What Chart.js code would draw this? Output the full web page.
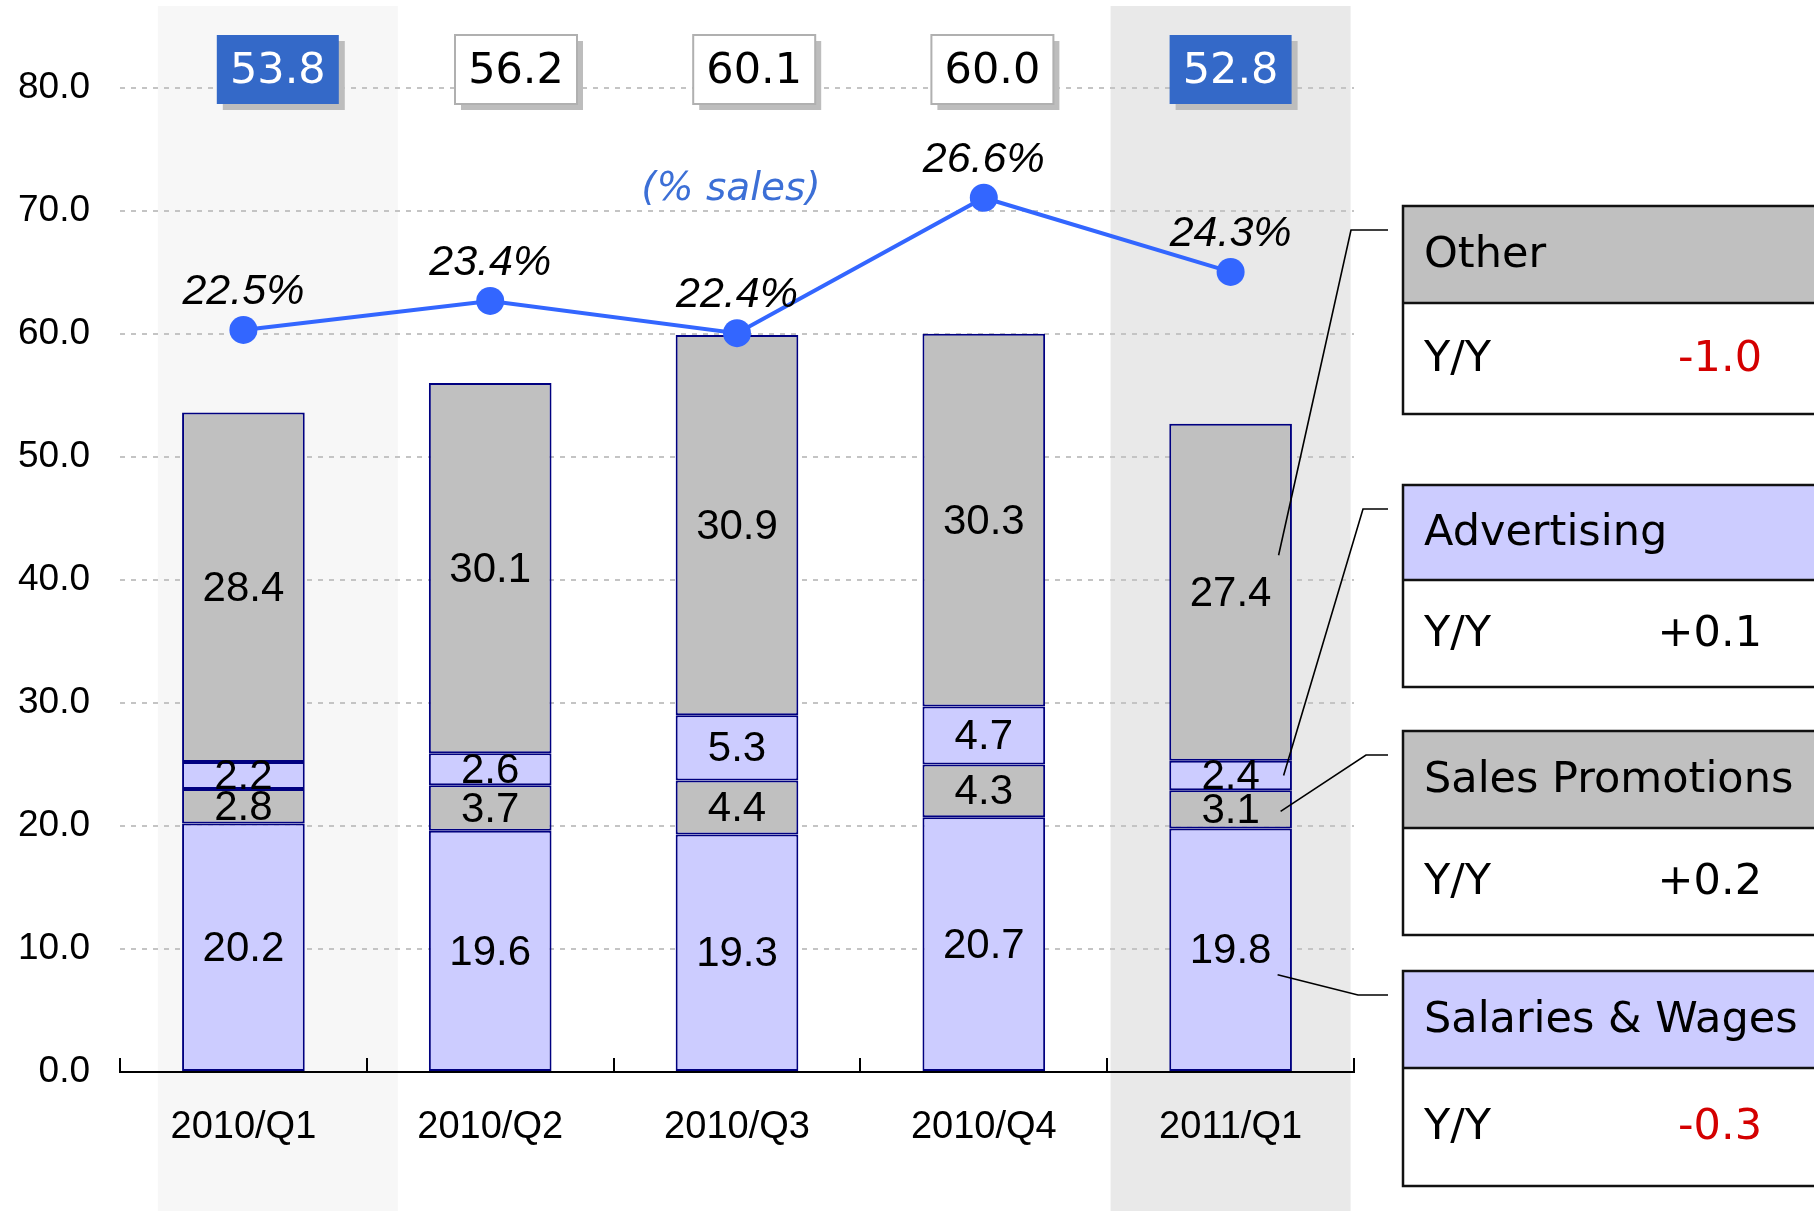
<!DOCTYPE html>
<html>
<head>
<meta charset="utf-8">
<script src="https://cdn.jsdelivr.net/npm/chart.js@4.4.1/dist/chart.umd.min.js"></script>
<style>
  body { margin: 0; background: #fff; }
  #wrap { width: 1814px; height: 1211px; }
</style>
</head>
<body>
<div id="wrap"><canvas id="costChart" width="1814" height="1211"></canvas></div>
<script>
// quarters and cost breakdown (billions)
const quarters = ['2010/Q1', '2010/Q2', '2010/Q3', '2010/Q4', '2011/Q1'];
const salaries = [20.2, 19.6, 19.3, 20.7, 19.8];
const promotions = [2.8, 3.7, 4.4, 4.3, 3.1];
const advertising = [2.2, 2.6, 5.3, 4.7, 2.4];
const other = [28.4, 30.1, 30.9, 30.3, 27.4];
const totals = [53.8, 56.2, 60.1, 60.0, 52.8];
const pctSales = [22.5, 23.4, 22.4, 26.6, 24.3];
const yTicks = [0, 10, 20, 30, 40, 50, 60, 70, 80];

// right hand panels
const panelNames = ['Other', 'Advertising', 'Sales Promotions', 'Salaries & Wages'];
const panelYoY = ['-1.0', '+0.1', '+0.2', '-0.3'];

const LABEL_FONT = '"Liberation Sans", Arial, sans-serif';
const BOX_FONT = '"DejaVu Sans", Verdana, sans-serif';
const LAVENDER = '#ccccff';
const GREY = '#c0c0c0';

// top total boxes sit a little off the bar centres
function boxCenter(chart, i) {
  return chart.scales.x.getPixelForValue(i) + (4 - i) * 8.6;
}

const backdrop = {
  id: 'backdrop',
  beforeDraw(chart) {
    const ctx = chart.ctx;
    ctx.save();
    [[0, '#f7f7f7'], [4, '#e9e9e9']].forEach(([i, c]) => {
      ctx.fillStyle = c;
      ctx.fillRect(boxCenter(chart, i) - 120, 6, 240, chart.height - 6);
    });
    ctx.restore();
  }
};

const labels = {
  id: 'labels',
  afterDatasetsDraw(chart) {
    const ctx = chart.ctx;
    ctx.save();
    ctx.textAlign = 'center';
    ctx.textBaseline = 'middle';

    // values inside the stacked segments
    ctx.fillStyle = '#000';
    ctx.font = '42px ' + LABEL_FONT;
    for (let d = 0; d < 4; d++) {
      const meta = chart.getDatasetMeta(d);
      meta.data.forEach((bar, i) => {
        const p = bar.getProps(['x', 'y', 'base'], true);
        ctx.fillText(chart.data.datasets[d].data[i].toFixed(1), p.x, (p.y + p.base) / 2 + 2);
      });
    }

    // % of sales above the points
    ctx.font = 'italic 43px ' + LABEL_FONT;
    chart.getDatasetMeta(4).data.forEach((pt, i) => {
      ctx.fillText(pctSales[i].toFixed(1) + '%', pt.x, pt.y - 38);
    });

    ctx.fillStyle = '#3c6fd6';
    ctx.font = 'oblique 39px ' + BOX_FONT;
    ctx.fillText('(% sales)', chart.scales.x.getPixelForValue(2) - 6, chart.scales.y.getPixelForValue(71.7));

    // total boxes
    ctx.font = '43px ' + BOX_FONT;
    totals.forEach((t, i) => {
      const cx = boxCenter(chart, i);
      const bx = cx - 61, by = 35, bw = 122, bh = 69;
      const blue = (i === 0 || i === 4);
      ctx.fillStyle = '#bdbdbd';
      ctx.fillRect(bx + 6, by + 6, bw, bh);
      ctx.fillStyle = blue ? '#3469c8' : '#fff';
      ctx.fillRect(bx, by, bw, bh);
      if (!blue) {
        ctx.strokeStyle = '#b0b0b0';
        ctx.lineWidth = 2;
        ctx.strokeRect(bx, by, bw, bh);
      }
      ctx.fillStyle = blue ? '#fff' : '#000';
      ctx.fillText(t.toFixed(1), cx, by + bh / 2 + 2);
    });
    ctx.restore();
  }
};

const panels = {
  id: 'panels',
  afterDraw(chart) {
    const ctx = chart.ctx;
    const tops = [206, 485, 731, 971];
    const headH = [97, 95, 97, 97];
    const rowH = [111, 107, 107, 118];
    const fills = [GREY, LAVENDER, GREY, LAVENDER];
    const left = 1403, right = 1834;
    ctx.save();
    ctx.lineWidth = 2.5;
    ctx.strokeStyle = '#111';
    ctx.textBaseline = 'middle';
    ctx.font = '43px ' + BOX_FONT;
    panelNames.forEach((name, k) => {
      const t = tops[k], h1 = headH[k], h2 = rowH[k];
      ctx.fillStyle = fills[k];
      ctx.fillRect(left, t, right - left, h1);
      ctx.fillStyle = '#fff';
      ctx.fillRect(left, t + h1, right - left, h2);
      ctx.strokeRect(left, t, right - left, h1 + h2);
      ctx.beginPath();
      ctx.moveTo(left, t + h1);
      ctx.lineTo(right, t + h1);
      ctx.stroke();
      ctx.fillStyle = '#000';
      ctx.textAlign = 'left';
      ctx.fillText(name, 1424, t + h1 / 2 + 1);
      ctx.fillText('Y/Y', 1424, t + h1 + h2 / 2 + 1);
      ctx.textAlign = 'right';
      ctx.fillStyle = panelYoY[k].startsWith('-') ? '#d40000' : '#000';
      ctx.fillText(panelYoY[k], 1762, t + h1 + h2 / 2 + 1);
    });

    // leader lines from the last bar to the panels
    const segs = [3, 2, 1, 0];
    const dy = [-37, 0, 2, 25];
    const dx = [48, 53, 50, 47];
    const cornerX = [1351, 1363, 1366, 1358];
    ctx.lineWidth = 1.6;
    ctx.strokeStyle = '#000';
    segs.forEach((d, k) => {
      const bar = chart.getDatasetMeta(d).data[4].getProps(['x', 'y', 'base'], true);
      const sx = bar.x + dx[k], sy = (bar.y + bar.base) / 2 + dy[k];
      ctx.beginPath();
      ctx.moveTo(sx, sy);
      ctx.lineTo(cornerX[k], tops[k] + 24);
      ctx.lineTo(1388, tops[k] + 24);
      ctx.stroke();
    });
    ctx.restore();
  }
};

function barSet(label, data, color) {
  return {
    type: 'bar', label, data,
    backgroundColor: color,
    borderColor: '#000080',
    borderWidth: 2,
    borderSkipped: false,
    barPercentage: 1,
    categoryPercentage: 0.497,
    order: 1
  };
}

new Chart(document.getElementById('costChart'), {
  data: {
    labels: quarters,
    datasets: [
      barSet('Salaries & Wages', salaries, LAVENDER),
      barSet('Sales Promotions', promotions, GREY),
      barSet('Advertising', advertising, LAVENDER),
      barSet('Other', other, GREY),
      {
        type: 'line', label: '% sales', data: pctSales, yAxisID: 'y2',
        borderColor: '#3366ff', borderWidth: 4,
        pointRadius: 14, pointBackgroundColor: '#3366ff', pointBorderWidth: 0,
        tension: 0, order: 0
      }
    ]
  },
  options: {
    responsive: false,
    animation: false,
    devicePixelRatio: 1,
    layout: { padding: { top: 3, right: 460, left: 0, bottom: 0 } },
    plugins: { legend: { display: false }, tooltip: { enabled: false } },
    scales: {
      x: {
        stacked: true,
        grid: { offset: true, drawOnChartArea: false, drawTicks: true, tickLength: -14, color: '#000', lineWidth: 2 },
        border: { display: true, color: '#000', width: 2 },
        ticks: { color: '#000', font: { family: LABEL_FONT, size: 38 }, padding: 47 },
        afterFit(s) { s.height = 139; }
      },
      y: {
        stacked: true, min: 0, max: 86.0,
        afterBuildTicks(s) { s.ticks = yTicks.map(v => ({ value: v })); },
        grid: { color: c => (c.tick && c.tick.value === 0) ? 'rgba(0,0,0,0)' : '#c4c4c4', lineWidth: 2, drawTicks: false },
        border: { display: false, dash: [5, 6] },
        ticks: { color: '#000', font: { family: LABEL_FONT, size: 37 }, padding: 30, callback: v => Number(v).toFixed(1) },
        afterFit(s) { s.width = 120; s.paddingTop = 0; s.paddingBottom = 0; }
      },
      y2: { display: false, min: -0.52, max: 32.3 }
    }
  },
  plugins: [backdrop, labels, panels]
});
</script>
</body>
</html>
